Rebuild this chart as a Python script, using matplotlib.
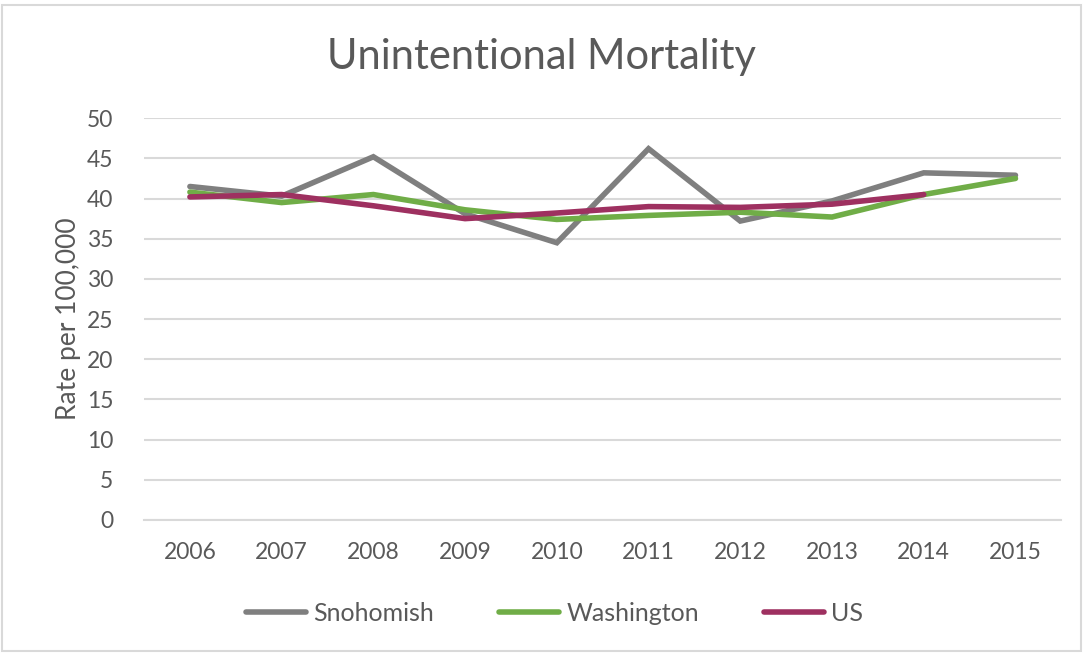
import matplotlib
matplotlib.use("Agg")
import matplotlib.pyplot as plt
from matplotlib.patches import Rectangle

years = ["2006", "2007", "2008", "2009", "2010", "2011", "2012", "2013", "2014", "2015"]
snohomish = [41.5, 40.3, 45.2, 38.1, 34.5, 46.2, 37.2, 39.7, 43.2, 42.9]
washington = [40.8, 39.5, 40.5, 38.6, 37.4, 37.9, 38.3, 37.7, 40.5, 42.5]
us = [40.2, 40.5, 39.1, 37.5, 38.2, 39.0, 38.9, 39.3, 40.5, None]

plt.rcParams['font.family'] = ['Lato', 'DejaVu Sans']
txt = '#595959'

fig = plt.figure(figsize=(10.83, 6.53), dpi=100)
ax = fig.add_axes([0.133, 0.2037, 0.847, 0.6153])

x = list(range(len(years)))
ax.plot(x, snohomish, color='#7F7F7F', lw=4, label='Snohomish', solid_capstyle='round', solid_joinstyle='miter')
ax.plot(x, washington, color='#70AD47', lw=4, label='Washington', solid_capstyle='round', solid_joinstyle='miter')
ux = [i for i, v in enumerate(us) if v is not None]
uv = [v for v in us if v is not None]
ax.plot(ux, uv, color='#9E3060', lw=4, label='US', solid_capstyle='round', solid_joinstyle='miter')

ax.set_xlim(-0.5, len(years) - 0.5)
ax.set_ylim(0, 50)
ax.set_yticks(range(0, 51, 5))
ax.set_xticks(x)
ax.set_xticklabels(years)
ax.grid(axis='y', color='#D9D9D9', lw=1.5)
ax.set_axisbelow(True)
for s in ['top', 'right', 'left']:
    ax.spines[s].set_visible(False)
ax.spines['bottom'].set_color('#D9D9D9')
ax.spines['bottom'].set_linewidth(1.5)
ax.tick_params(axis='both', length=0, labelsize=16.5, colors=txt)
ax.tick_params(axis='x', pad=16)
ax.tick_params(axis='y', pad=22)
ax.set_ylabel('Rate per 100,000', fontsize=19, color=txt, labelpad=4)

fig.text(0.5, 0.913, 'Unintentional Mortality', ha='center', va='center', fontsize=30, color=txt)

leg = fig.legend(loc='center', bbox_to_anchor=(0.512, 0.061), ncol=3, frameon=False,
                 fontsize=18, handlelength=2.4, handletextpad=0.3, columnspacing=2.6)
for t in leg.get_texts():
    t.set_color(txt)

fig.patches.append(Rectangle((0.002, 0.003), 0.996, 0.99, transform=fig.transFigure,
                             fill=False, edgecolor='#D9D9D9', lw=1.5))

fig.savefig('out.png', dpi=100)
